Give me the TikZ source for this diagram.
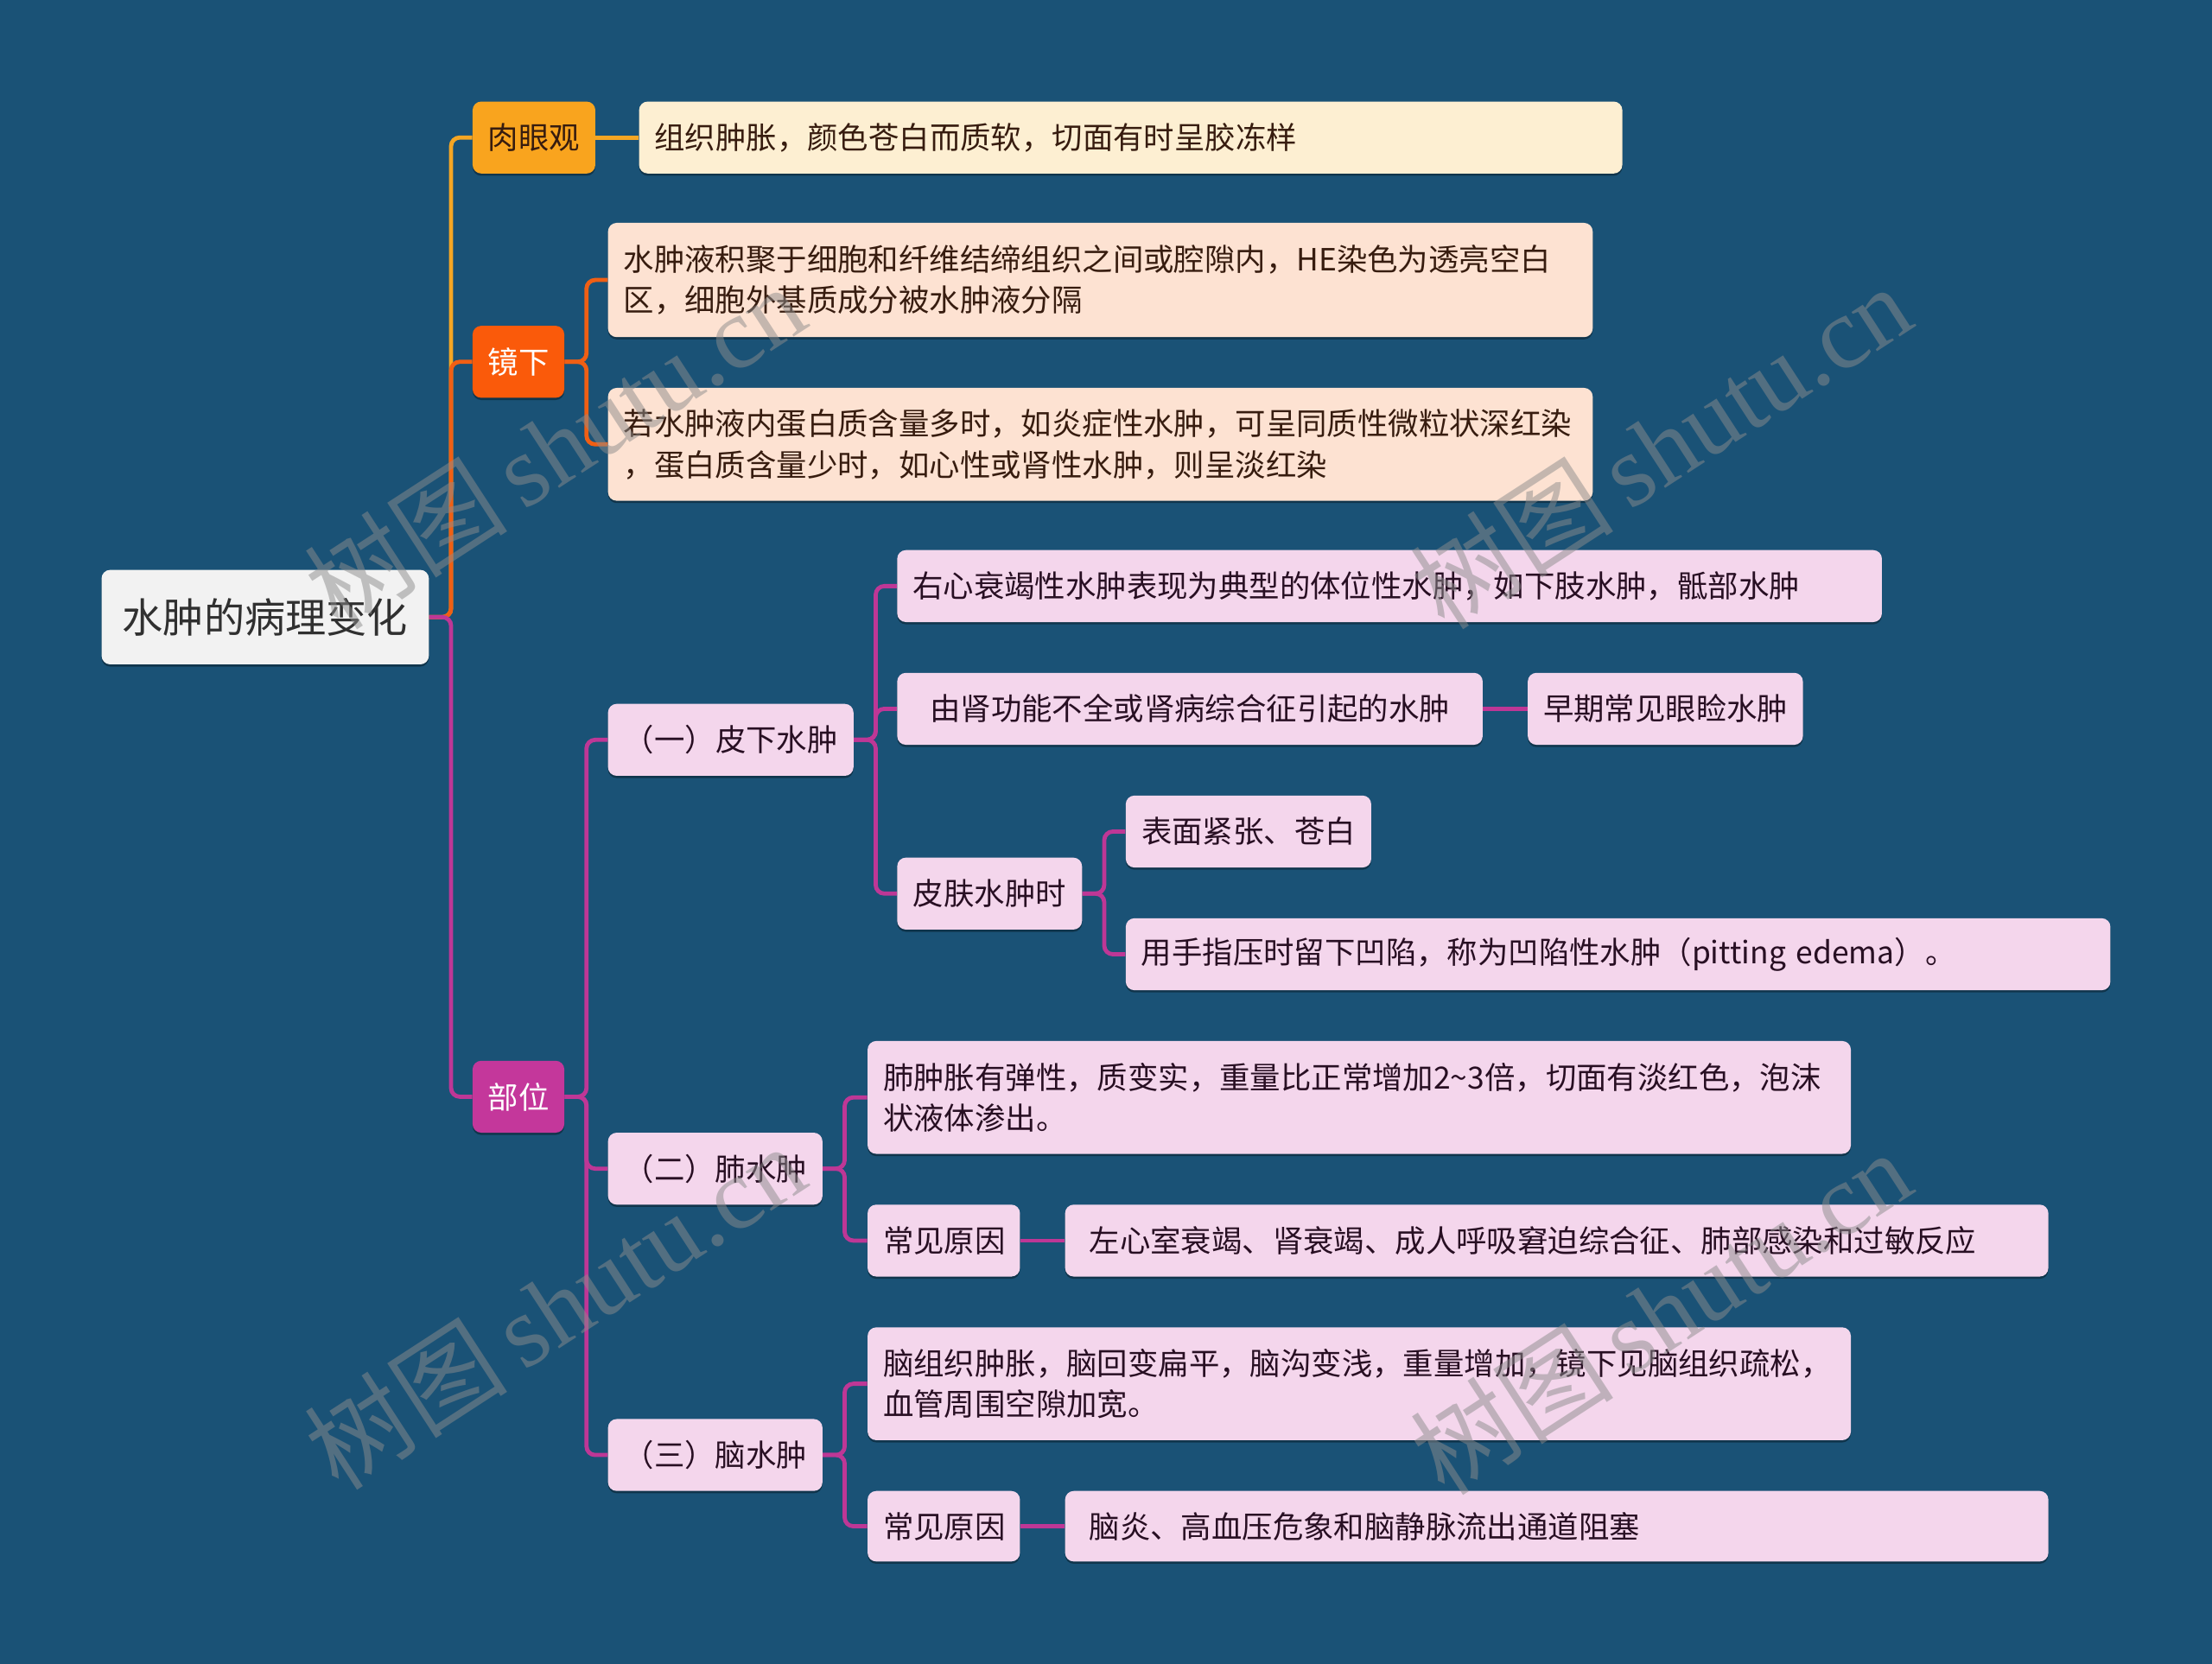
\documentclass[tikz,border=0pt]{standalone}
\usepackage{fontspec}
\setmainfont{Noto Sans CJK SC}
\newfontfamily\wmlatin{Liberation Serif}
\usetikzlibrary{shadows}
\definecolor{bgc}{RGB}{26,82,118}
\definecolor{rootfill}{RGB}{242,242,242}
\definecolor{roottext}{RGB}{48,48,48}
\definecolor{amber}{RGB}{249,164,30}
\definecolor{amberline}{RGB}{245,166,35}
\definecolor{cream}{RGB}{253,239,210}
\definecolor{orng}{RGB}{250,90,10}
\definecolor{orngline}{RGB}{240,95,20}
\definecolor{peach}{RGB}{253,226,210}
\definecolor{mag}{RGB}{196,55,155}
\definecolor{magline}{RGB}{190,55,150}
\definecolor{pink}{RGB}{244,214,236}
\definecolor{brownt}{RGB}{55,28,15}
\definecolor{purplet}{RGB}{40,15,35}
\definecolor{wmgray}{RGB}{140,140,140}
\pgfdeclarelayer{bgzero}
\pgfdeclarelayer{bgone}
\pgfsetlayers{bgzero,bgone,main}
\newcommand\bx[7]{%
  \pgfmathsetmacro\tw{(#4-22)*0.8163}%
  \pgfmathsetmacro\mh{#5*0.8163}%
  \node[#6, text width=\tw pt, minimum height=\mh pt] (#1) at (#2,#3) {#7};}
\tikzset{
  boxbase/.style={rounded corners=5pt, inner xsep=8.98pt, inner ysep=0pt,
    font=\fontsize{17.7pt}{23.7pt}\selectfont,
    drop shadow={shadow xshift=0pt, shadow yshift=-1.3pt, opacity=0.35, fill=black}},
  rootbox/.style={boxbase, fill=rootfill, text=roottext, align=center,
    font=\fontsize{23.6pt}{28pt}\selectfont},
  amberbox/.style={boxbase, fill=amber, text=brownt, align=center},
  orngbox/.style={boxbase, fill=orng, text=white, align=center},
  magbox/.style={boxbase, fill=mag, text=white, align=center},
  creamleaf/.style={boxbase, fill=cream, text=brownt, align=left},
  peachleaf/.style={boxbase, fill=peach, text=brownt, align=left},
  pinkleaf/.style={boxbase, fill=pink, text=purplet, align=left},
  pinkmid/.style={boxbase, fill=pink, text=purplet, align=center},
  conn/.style={line width=2.4pt, rounded corners=5pt},
  wm/.style={text=wmgray, text opacity=0.5, inner sep=0pt,
    font=\fontsize{59pt}{59pt}\selectfont}
}
\begin{document}
\begin{tikzpicture}[x=0.8163pt, y=-0.8163pt]
\begin{pgfonlayer}{bgzero}
\fill[bgc] (0,0) rectangle (1568,1179.6);
\end{pgfonlayer}
\useasboundingbox (0,0) rectangle (1568,1179.6);

\bx{root}{188}{437.5}{232}{67}{rootbox}{水肿的病理变化}
\bx{b1}{378.5}{97.5}{87}{51}{amberbox}{肉眼观}
\bx{l1}{801.5}{97.5}{697}{51}{creamleaf}{组织肿胀，颜色苍白而质软，切面有时呈胶冻样}
\bx{b2}{367.5}{256.5}{65}{51}{orngbox}{镜下}
\bx{l2a}{780}{198.5}{698}{81}{peachleaf}{水肿液积聚于细胞和纤维结缔组织之间或腔隙内，HE染色为透亮空白\\区，细胞外基质成分被水肿液分隔}
\bx{l2b}{780}{315}{698}{80}{peachleaf}{若水肿液内蛋白质含量多时，如炎症性水肿，可呈同质性微粒状深红染\\，蛋白质含量少时，如心性或肾性水肿，则呈淡红染}
\bx{b3}{367.5}{777.5}{65}{51}{magbox}{部位}
\bx{s1}{518}{524.5}{174}{51}{pinkmid}{（一）皮下水肿}
\bx{s1a}{985}{415.5}{698}{51}{pinkleaf}{右心衰竭性水肿表现为典型的体位性水肿，如下肢水肿，骶部水肿}
\bx{s1b}{843.5}{502.5}{415}{51}{pinkmid}{由肾功能不全或肾病综合征引起的水肿}
\bx{s1b1}{1180.5}{502.5}{195}{51}{pinkmid}{早期常见眼睑水肿}
\bx{s1c}{701.5}{633.5}{131}{51}{pinkmid}{皮肤水肿时}
\bx{s1c1}{885}{589.5}{174}{51}{pinkmid}{表面紧张、苍白}
\bx{s1c2}{1147}{676.5}{698}{51}{pinkleaf}{用手指压时留下凹陷，称为凹陷性水肿（pitting edema）。}
\bx{s2}{507}{828.5}{152}{51}{pinkmid}{（二）肺水肿}
\bx{s2a}{963.5}{778}{697}{80}{pinkleaf}{肺肿胀有弹性，质变实，重量比正常增加2\textasciitilde 3倍，切面有淡红色，泡沫\\状液体渗出。}
\bx{s2b}{669}{879.5}{108}{51}{pinkmid}{常见原因}
\bx{s2b1}{1103.5}{879.5}{697}{51}{pinkleaf}{\hspace*{5pt}左心室衰竭、肾衰竭、成人呼吸窘迫综合征、肺部感染和过敏反应}
\bx{s3}{507}{1031.5}{152}{51}{pinkmid}{（三）脑水肿}
\bx{s3a}{963.5}{981}{697}{80}{pinkleaf}{脑组织肿胀，脑回变扁平，脑沟变浅，重量增加，镜下见脑组织疏松，\\血管周围空隙加宽。}
\bx{s3b}{669}{1082}{108}{50}{pinkmid}{常见原因}
\bx{s3b1}{1103.5}{1082}{697}{50}{pinkleaf}{\hspace*{5pt}脑炎、高血压危象和脑静脉流出通道阻塞}

\begin{pgfonlayer}{bgone}
\draw[conn, amberline] (root.east) -- ++(15.5,0) |- (b1.west);
\draw[conn, amberline] (b1.east) -- (l1.west);
\draw[conn, orngline] (root.east) -- ++(15.5,0) |- (b2.west);
\foreach \c in {l2a,l2b}
  \draw[conn, orngline] (b2.east) -- ++(15.5,0) |- (\c.west);
\draw[conn, magline] (root.east) -- ++(15.5,0) |- (b3.west);
\foreach \p/\c in {b3/s1, b3/s2, b3/s3, s1/s1a, s1/s1b, s1/s1c, s1c/s1c1, s1c/s1c2, s2/s2a, s2/s2b, s3/s3a, s3/s3b}
  \draw[conn, magline] (\p.east) -- ++(15.5,0) |- (\c.west);
\foreach \p/\c in {s1b/s1b1, s2b/s2b1, s3b/s3b1}
  \draw[conn, magline] (\p.east) -- (\c.west);
\end{pgfonlayer}

\node[wm, rotate=33] (w1) at (393,316) {树图\,{\wmlatin shutu.cn}};
\node[wm, rotate=33] (w2) at (1177,316) {树图\,{\wmlatin shutu.cn}};
\node[wm, rotate=33] (w3) at (393,926) {树图\,{\wmlatin shutu.cn}};
\node[wm, rotate=33] (w4) at (1177,930) {树图\,{\wmlatin shutu.cn}};
\end{tikzpicture}
\end{document}
